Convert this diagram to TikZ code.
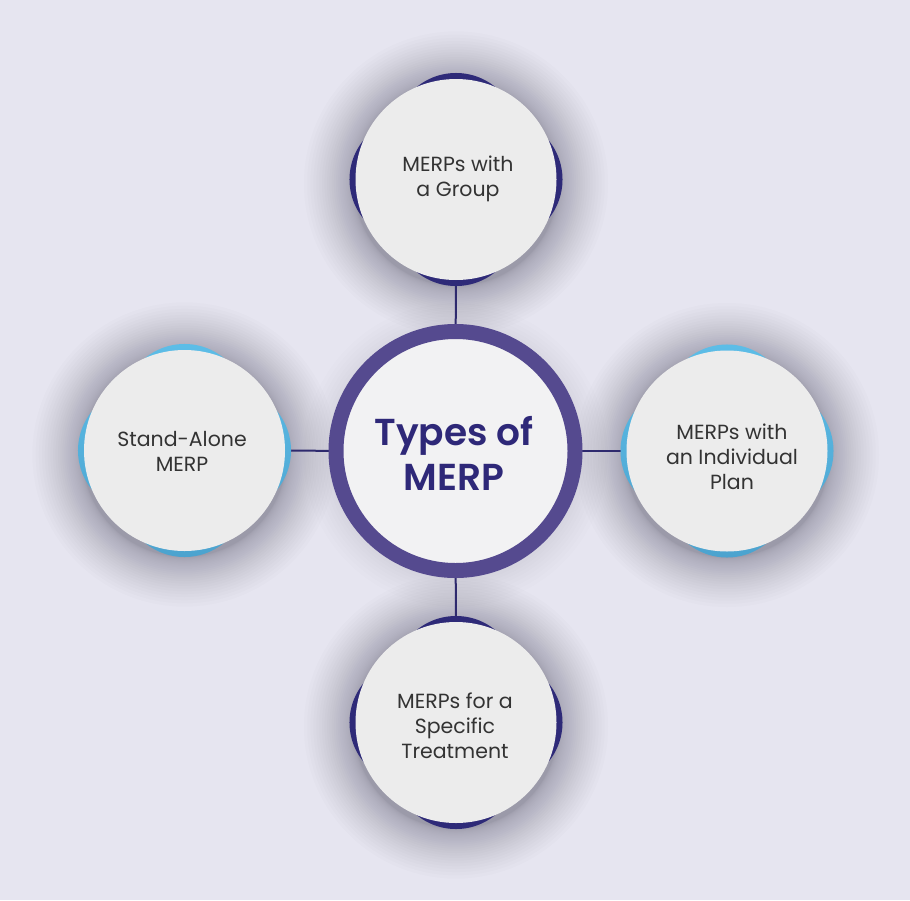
\documentclass[tikz,border=0pt]{standalone}
\usepackage{fontspec}
\setmainfont{Poppins}[BoldFont={Poppins SemiBold}]
\usetikzlibrary{calc}
\definecolor{bgc}{HTML}{E6E5F0}
\definecolor{shd}{HTML}{55536A}
\definecolor{navy}{HTML}{2E2A78}
\definecolor{linec}{HTML}{2E2A6E}
\definecolor{ringc}{HTML}{554A8F}
\definecolor{lightc}{HTML}{ECECEC}
\definecolor{innerc}{HTML}{F2F2F3}
\definecolor{bluetop}{HTML}{5EC0EA}
\definecolor{bluebot}{HTML}{4AA0CC}
\definecolor{txtc}{HTML}{333333}
\definecolor{titlec}{HTML}{2E2878}
\pgfdeclarelayer{bglayer}
\pgfdeclarelayer{shadowlayer}
\pgfdeclarelayer{linelayer}
\pgfsetlayers{bglayer,shadowlayer,linelayer,main}
\newcommand\backdiamond[2]{%
  \path[#1] ($(#2)+(66.1,-66.1)$) -- ($(#2)+(132.2,0)$) -- ($(#2)+(0,132.2)$)
    -- ($(#2)+(-132.2,0)$) -- ($(#2)+(0,-132.2)$) -- ($(#2)+(66.1,-66.1)$);}
\newcommand\softshadow[5]{%
  \foreach \k in {1,...,#3}{\fill[shd, opacity=#4] ($(#1)+(0,#2)$) circle ({102+#5*(\k/#3)*(\k/#3)});}}
\begin{document}
\begin{tikzpicture}[x=1pt,y=-1pt,
  satcircle/.style={circle, fill=lightc, minimum size=201pt, inner sep=0pt},
  satext/.style={align=center, text=txtc, font=\fontsize{20.5}{25}\selectfont, inner sep=0pt},
  hub/.style={circle, fill=innerc, draw=ringc, line width=15pt, minimum size=239pt, inner sep=0pt},
  hubtext/.style={align=center, text=titlec, font=\bfseries\fontsize{37.5}{45}\selectfont, inner sep=0pt},
  connector/.style={draw=linec, line width=2pt},
  navyback/.style={fill=navy, rounded corners=62pt},
  blueback/.style={top color=bluetop, bottom color=bluebot, rounded corners=62pt},
]
\useasboundingbox (0,0) rectangle (910,900);
\begin{pgfonlayer}{bglayer}
  \fill[bgc] (0,0) rectangle (910,900);
\end{pgfonlayer}

\coordinate (cT) at (456,179.5);
\coordinate (cB) at (456,722.5);
\coordinate (cL) at (184.5,450.5);
\coordinate (cR) at (727,451);
\coordinate (cC) at (455.5,451);

\backdiamond{navyback}{cT}
\backdiamond{navyback}{cB}
\backdiamond{blueback}{cL}
\backdiamond{blueback}{cR}

\node[satcircle] (T) at (cT) {};
\node[satcircle] (B) at (cB) {};
\node[satcircle] (L) at (cL) {};
\node[satcircle] (R) at (cR) {};
\node[hub] (C) at (cC) {};

\node[satext] (tT) at (458,179) {MERPs with\\a Group};
\node[satext] (tL) at (182,451) {Stand-Alone\\MERP};
\node[satext] (tR) at (732,457) {MERPs with\\an Individual\\Plan};
\node[satext] (tB) at (455,726) {MERPs for a\\Specific\\Treatment};
\node[hubtext] (tC) at (454,453) {Types of\\MERP};

\begin{pgfonlayer}{linelayer}
  \draw[connector] (T.center) -- (C.center);
  \draw[connector] (B.center) -- (C.center);
  \draw[connector] (L.center) -- (C.center);
  \draw[connector] (R.center) -- (C.center);
\end{pgfonlayer}

\begin{pgfonlayer}{shadowlayer}
  \softshadow{cT}{4}{30}{0.02}{50}
  \softshadow{cB}{4}{30}{0.02}{50}
  \softshadow{cL}{4}{30}{0.02}{50}
  \softshadow{cR}{4}{30}{0.02}{50}
  \softshadow{cC}{4}{24}{0.012}{50}
\end{pgfonlayer}
\end{tikzpicture}
\end{document}
